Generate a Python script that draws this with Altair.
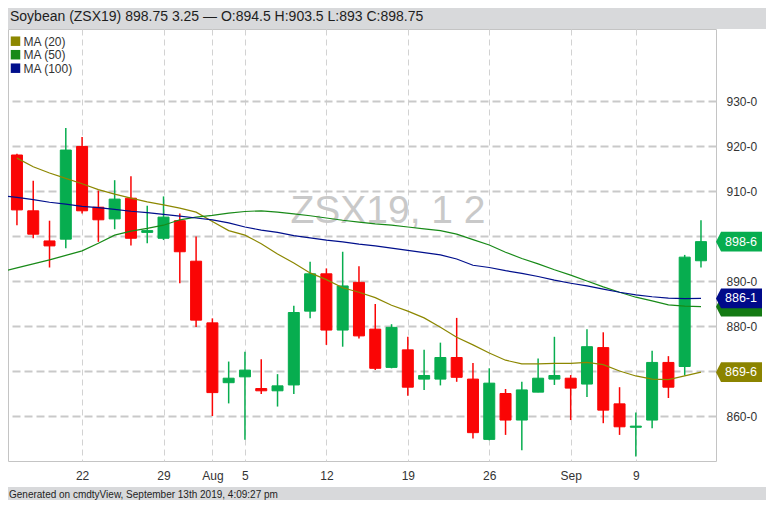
import altair as alt
import pandas as pd

# ---------------- data ----------------
tick_index = [4, 9, 12, 14, 19, 24, 29, 34, 38]
tick_labels = ["22", "29", "Aug", "5", "12", "19", "26", "Sep", "9"]

dates = ["Jul 16", "Jul 17", "Jul 18", "Jul 19", "Jul 22", "Jul 23", "Jul 24", "Jul 25", "Jul 26",
         "Jul 29", "Jul 30", "Jul 31", "Aug 1", "Aug 2", "Aug 5", "Aug 6", "Aug 7", "Aug 8", "Aug 9",
         "Aug 12", "Aug 13", "Aug 14", "Aug 15", "Aug 16", "Aug 19", "Aug 20", "Aug 21", "Aug 22",
         "Aug 23", "Aug 26", "Aug 27", "Aug 28", "Aug 29", "Aug 30", "Sep 3", "Sep 4", "Sep 5",
         "Sep 6", "Sep 9", "Sep 10", "Sep 11", "Sep 12", "Sep 13"]
opens = [918.0, 905.6, 898.9, 899.3, 919.9, 906.4, 903.8, 908.4, 900.8, 899.5, 903.4, 894.4, 880.7,
         867.4, 868.7, 866.1, 865.6, 866.9, 883.3, 891.6, 879.1, 889.7, 879.3, 870.8, 874.7, 868.2,
         868.2, 873.0, 868.2, 854.8, 865.0, 859.1, 865.3, 868.2, 868.4, 867.1, 875.2, 862.7, 857.5,
         859.1, 871.9, 871.0, 894.5]
highs = [918.3, 912.3, 903.4, 924.0, 922.0, 910.1, 912.4, 913.3, 906.7, 908.8, 905.0, 899.9, 881.7,
         872.1, 874.3, 872.6, 869.3, 884.5, 894.3, 892.8, 896.5, 893.3, 884.9, 880.4, 877.6, 874.7,
         876.3, 881.8, 871.8, 870.6, 866.0, 867.6, 872.8, 877.6, 869.1, 879.3, 878.6, 866.4, 860.8,
         874.5, 873.3, 895.8, 903.5]
lows = [902.4, 899.5, 893.0, 897.3, 905.0, 898.7, 901.5, 897.9, 898.4, 899.1, 889.5, 879.8, 860.0,
        862.8, 854.7, 864.9, 862.1, 864.9, 881.7, 875.8, 875.4, 877.2, 870.2, 870.6, 864.5, 865.8,
        866.8, 867.6, 855.0, 854.6, 855.8, 852.4, 865.3, 866.9, 859.1, 864.2, 858.4, 855.8, 851.0,
        857.3, 864.0, 869.0, 893.0]
closes = [905.8, 900.4, 897.8, 919.1, 905.6, 903.6, 908.2, 899.5, 901.2, 904.2, 896.5, 881.3, 865.2,
          868.4, 870.2, 865.6, 866.7, 883.0, 891.6, 879.1, 888.9, 877.8, 870.6, 879.7, 866.4, 869.0,
          873.0, 868.6, 856.3, 867.3, 859.1, 865.8, 868.4, 869.0, 866.2, 875.4, 861.3, 857.6, 857.75,
          871.9, 866.4, 895.3, 898.75]

ma_index = list(range(-1, 43))
ma20 = [None, 917.3, 915.4, 914.0, 912.8, 911.6, 910.3, 909.3, 908.4, 907.6, 906.9, 906.2, 905.3,
        903.2, 901.2, 900.2, 898.3, 896.0, 894.0, 891.8, 890.3, 888.5, 887.5, 886.3, 884.6, 883.3,
        881.8, 879.7, 877.5, 875.8, 874.0, 872.4, 871.6, 871.6, 871.7, 871.7, 871.9, 871.4, 870.0,
        868.9, 868.2, 868.1, 868.9, 869.75]
ma50 = [892.0, 892.9, 893.8, 894.7, 895.7, 896.7, 898.4, 900.2, 901.1, 901.7, 902.4, 903.6, 904.2,
        904.6, 905.1, 905.45, 905.6, 905.3, 904.9, 904.5, 904.0, 903.5, 903.1, 902.7, 902.4, 902.0,
        901.6, 901.2, 900.4, 899.2, 898.0, 896.4, 895.0, 893.8, 892.5, 891.3, 890.0, 888.7, 887.5,
        886.4, 885.6, 884.7, 884.4, 884.3]
ma100 = [909.0, 908.6, 908.1, 907.5, 907.1, 906.6, 906.3, 905.9, 905.5, 905.2, 904.8, 904.4, 904.0,
         903.6, 902.9, 902.0, 901.3, 900.8, 900.1, 899.6, 899.1, 898.7, 898.2, 897.8, 897.3, 896.8,
         896.3, 895.8, 894.9, 893.5, 893.0, 892.3, 891.7, 891.0, 890.2, 889.5, 888.9, 888.2, 887.5,
         886.9, 886.5, 886.2, 886.1, 886.125]
ma_names = ["MA (20)", "MA (50)", "MA (100)"]
ma_colors = ["#8c8700", "#188a18", "#000f8c"]

y_ticks = [860, 870, 880, 890, 900, 910, 920, 930]

tag_values = [884.3, 886.125, 898.75, 869.75]
tag_labels = ["", "886-1", "898-6", "869-6"]
tag_colors = ["#137a13", "#000a8a", "#07ad4f", "#8b8400"]

title_text = "Soybean (ZSX19) 898.75 3.25 \u2014 O:894.5 H:903.5 L:893 C:898.75"
footer_text = "Generated on cmdtyView, September 13th 2019, 4:09:27 pm"
watermark_text = "ZSX19, 1 2"

UP = "#07ad4f"
DOWN = "#fa0505"

# ---------------- frames ----------------
candles = pd.DataFrame({"idx": list(range(len(opens))), "date": dates, "open": opens,
                        "high": highs, "low": lows, "close": closes})
ma_rows = []
for name, vals in zip(ma_names, [ma20, ma50, ma100]):
    for i, v in zip(ma_index, vals):
        if v is not None:
            ma_rows.append({"idx": i, "value": v, "series": name})
ma_df = pd.DataFrame(ma_rows)
tags = pd.DataFrame({"value": tag_values, "label": tag_labels, "color": tag_colors,
                     "order": list(range(len(tag_values)))})
one = pd.DataFrame({"a": [0]})

xs = alt.Scale(domain=[-0.242, 42.615], nice=False, zero=False)
ys = alt.Scale(domain=[850, 946], nice=False, zero=False)

label_expr = ""
for i, l in zip(tick_index, tick_labels):
    label_expr += f"datum.value == {i} ? '{l}' : "
label_expr += "''"

x_axis = alt.Axis(values=tick_index, labelExpr=label_expr, title=None, grid=True,
                  gridColor="#d2d2d2", gridDash=[6, 4], gridWidth=1, ticks=False, domain=False,
                  labelFontSize=12, labelColor="#333333", labelPadding=9,
                  labelFont="Liberation Sans Narrow, Liberation Sans")
y_axis = alt.Axis(values=y_ticks, orient="right", title=None, grid=True, gridColor="#c9c9c9",
                  gridDash=[8, 4], gridWidth=2, ticks=False, domain=False,
                  labelExpr="datum.value == 900 || datum.value == 870 ? '' : datum.value + '-0'",
                  labelFontSize=12, labelColor="#333333", labelPadding=10, labelAlign="left",
                  labelFont="Liberation Sans")

up_cond = "datum.close >= datum.open"

watermark = alt.Chart(pd.DataFrame({"t": [watermark_text]})).mark_text(
    fontSize=39, font="Liberation Sans", color="#c9c9c9", align="center", baseline="alphabetic"
).encode(text="t:N", x=alt.value(380), y=alt.value(194))

wicks = alt.Chart(candles).mark_rule(strokeWidth=1.5).encode(
    x=alt.X("idx:Q", scale=xs, axis=x_axis),
    y=alt.Y("low:Q", scale=ys, axis=y_axis),
    y2="high:Q",
    color=alt.condition(up_cond, alt.value(UP), alt.value(DOWN)),
)
bodies = alt.Chart(candles).mark_bar(size=11, strokeWidth=1).encode(
    x=alt.X("idx:Q", scale=xs),
    y=alt.Y("open:Q", scale=ys),
    y2="close:Q",
    color=alt.condition(up_cond, alt.value(UP), alt.value(DOWN)),
    stroke=alt.condition(up_cond, alt.value(UP), alt.value(DOWN)),
)

ma_lines = alt.Chart(ma_df).mark_line(strokeWidth=1.2, clip=True).encode(
    x=alt.X("idx:Q", scale=xs),
    y=alt.Y("value:Q", scale=ys),
    color=alt.Color("series:N", scale=alt.Scale(domain=ma_names, range=ma_colors), legend=None),
)

# legend (drawn as a small key in the top-left corner)
legend_layers = []
for k, (name, col) in enumerate(zip(ma_names, ma_colors)):
    row = pd.DataFrame({"name": [name]})
    legend_layers.append(alt.Chart(row).mark_square(size=90, color=col, opacity=1).encode(
        x=alt.value(7.5), y=alt.value(12.2 + 13.5 * k)))
    legend_layers.append(alt.Chart(row).mark_text(
        fontSize=12, font="Liberation Sans", color="#333333", align="left", baseline="middle"
    ).encode(text="name:N", x=alt.value(15.5), y=alt.value(12.6 + 13.5 * k)))

tag_shape = "M -1 0 L -0.78 -0.43 L 1 -0.43 L 1 0.43 L -0.78 0.43 Z"
tag_marks = alt.Chart(tags).mark_point(shape=tag_shape, size=2116, filled=True, opacity=1,
                                       strokeWidth=0).encode(
    y=alt.Y("value:Q", scale=ys),
    x=alt.value(731),
    color=alt.Color("color:N", scale=None),
    order="order:Q",
)
tag_text = alt.Chart(tags).mark_text(color="white", fontSize=12.5, font="Liberation Sans",
                                     align="center", baseline="middle").encode(
    y=alt.Y("value:Q", scale=ys),
    x=alt.value(733),
    text="label:N",
)

top_bar = alt.Chart(one).mark_rect(color="#d8d9db").encode(
    x=alt.value(0), x2=alt.value(758), y=alt.value(-21), y2=alt.value(0))
bottom_bar = alt.Chart(one).mark_rect(color="#d8d9db").encode(
    x=alt.value(0), x2=alt.value(758), y=alt.value(458), y2=alt.value(472))
title = alt.Chart(pd.DataFrame({"t": [title_text]})).mark_text(
    fontSize=14, font="Liberation Sans", color="#1e1e1e", align="left", baseline="middle"
).encode(text="t:N", x=alt.value(2), y=alt.value(-12))
footer = alt.Chart(pd.DataFrame({"t": [footer_text]})).mark_text(
    fontSize=10, font="Liberation Sans Narrow, Liberation Sans", color="#1e1e1e", align="left",
    baseline="middle"
).encode(text="t:N", x=alt.value(1), y=alt.value(465.5))

chart = alt.layer(
    watermark, wicks, bodies, ma_lines, *legend_layers, tag_marks, tag_text,
    top_bar, bottom_bar, title, footer
).properties(
    width=708, height=432,
    padding={"left": 0, "top": 21, "right": 50, "bottom": 39},
    autosize=alt.AutoSizeParams(type="none"),
    background="white",
).configure_view(stroke="#c4c4c4", fill="white")

chart.save("out.html", embed_options={"renderer": "svg", "actions": False})
